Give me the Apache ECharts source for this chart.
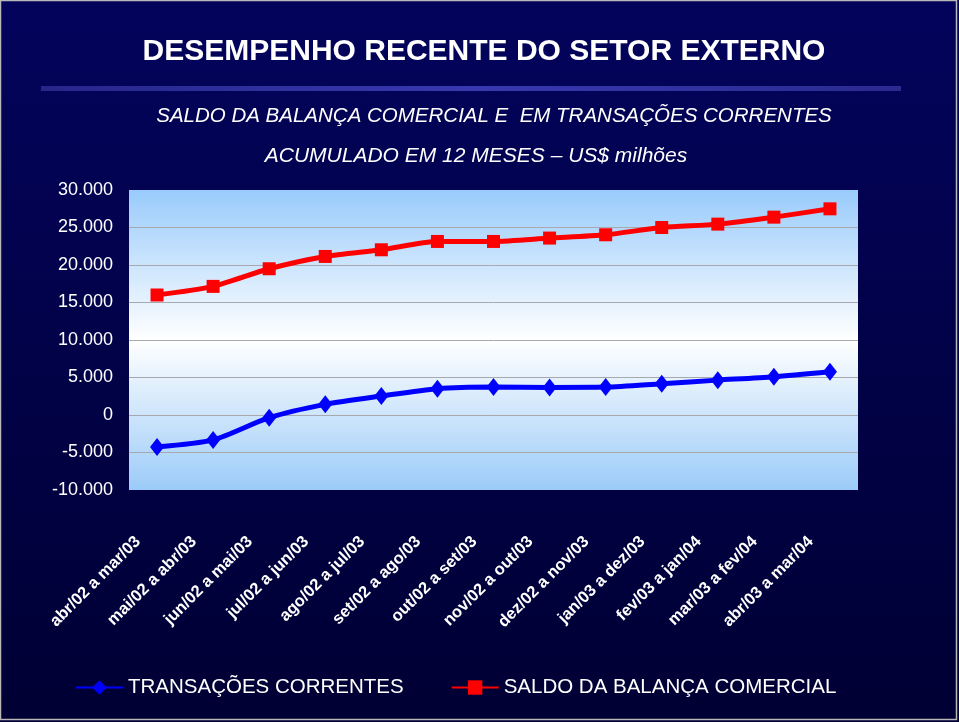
<!DOCTYPE html>
<html>
<head>
<meta charset="utf-8">
<script src="https://cdn.jsdelivr.net/npm/echarts@6/dist/echarts.min.js"></script>
<style>
html,body{margin:0;padding:0;background:#e0e0e0;}
#c{width:959px;height:722px;}
</style>
</head>
<body>
<div id="c"></div>
<script>
const categories = ['abr/02 a mar/03','mai/02 a abr/03','jun/02 a mai/03','jul/02 a jun/03','ago/02 a jul/03','set/02 a ago/03','out/02 a set/03','nov/02 a out/03','dez/02 a nov/03','jan/03 a dez/03','fev/03 a jan/04','mar/03 a fev/04','abr/03 a mar/04'];
const transacoesCorrentes = [-4260, -3320, -350, 1420, 2530, 3510, 3720, 3680, 3720, 4180, 4650, 5110, 5770];
const saldoBalanca = [16000, 17150, 19500, 21140, 22030, 23140, 23140, 23590, 24030, 25000, 25450, 26380, 27490];
const yMin = -10000, yMax = 30000, yStep = 5000;

function fmt(v){
  if (v === 0) return '0';
  const s = Math.abs(v).toString().replace(/\B(?=(\d{3})+(?!\d))/g, '.');
  return (v < 0 ? '-' : '') + s;
}

const chart = echarts.init(document.getElementById('c'), null, {renderer:'canvas'});
chart.setOption({
  animation:false,
  backgroundColor: new echarts.graphic.LinearGradient(0,0,0,1,[
    {offset:0,color:'#03035c'},{offset:1,color:'#000034'}
  ]),
  title:[
    {text:'DESEMPENHO RECENTE DO SETOR EXTERNO', left:479, top:32, textAlign:'center',
     textStyle:{color:'#ffffff', fontFamily:'Liberation Sans, Arial', fontWeight:'bold', fontSize:30,
       textShadowColor:'#000000', textShadowOffsetX:3, textShadowOffsetY:3, textShadowBlur:0}},
    {text:'SALDO DA BALANÇA COMERCIAL E  EM TRANSAÇÕES CORRENTES', left:489, top:101, textAlign:'center',
     textStyle:{color:'#ffffff', fontFamily:'Liberation Sans, Arial', fontStyle:'italic', fontWeight:'normal', fontSize:20.5,
       textShadowColor:'#000000', textShadowOffsetX:2, textShadowOffsetY:2}},
    {text:'ACUMULADO EM 12 MESES – US$ milhões', left:471, top:141, textAlign:'center',
     textStyle:{color:'#ffffff', fontFamily:'Liberation Sans, Arial', fontStyle:'italic', fontWeight:'normal', fontSize:21,
       textShadowColor:'#000000', textShadowOffsetX:2, textShadowOffsetY:2}}
  ],
  graphic:[
    {type:'rect', shape:{x:41,y:86,width:860,height:5}, silent:true,
     style:{fill:new echarts.graphic.LinearGradient(0,0,1,0,[
       {offset:0,color:'#26268a'},{offset:0.5,color:'#3838b0'},{offset:1,color:'#2a2a90'}])}},
    {type:'rect', shape:{x:0.5,y:0.5,width:956,height:719}, silent:true, z:100,
     style:{fill:'none', stroke:'#b8b8b8', lineWidth:1.5}}
  ],
  legend:{
    left:75, top:677, padding:0, itemWidth:47, itemHeight:18, itemGap:47,
    textStyle:{color:'#ffffff', fontFamily:'Liberation Sans, Arial', fontSize:20.5},
    data:['TRANSAÇÕES CORRENTES','SALDO DA BALANÇA COMERCIAL']
  },
  grid:{left:129, right:101, top:190, bottom:232, show:true, borderWidth:0,
    backgroundColor:new echarts.graphic.LinearGradient(0,0,0,1,[
      {offset:0,color:'#99cbfb'},{offset:0.5,color:'#ffffff'},{offset:1,color:'#9ccbf8'}])},
  xAxis:{
    type:'category', data:categories, boundaryGap:true,
    axisLine:{show:false}, axisTick:{show:false},
    axisLabel:{interval:0, rotate:45, color:'#ffffff', fontFamily:'Liberation Sans, Arial', fontWeight:'bold', fontSize:16.5,
      margin:30, padding:[0,27,0,0]}
  },
  yAxis:{
    type:'value', min:yMin, max:yMax, interval:yStep,
    axisLine:{show:false}, axisTick:{show:false},
    splitLine:{show:true, showMinLine:false, showMaxLine:false, lineStyle:{color:'#a8a8b0', width:1}},
    axisLabel:{color:'#ffffff', fontFamily:'Liberation Sans, Arial', fontSize:18, margin:16, formatter:fmt}
  },
  series:[
    {name:'TRANSAÇÕES CORRENTES', type:'line', data:transacoesCorrentes, smooth:0.25,
     symbol:'diamond', symbolSize:[14,18], lineStyle:{color:'#0000ff', width:5},
     itemStyle:{color:'#0000ff'}},
    {name:'SALDO DA BALANÇA COMERCIAL', type:'line', data:saldoBalanca, smooth:0.25,
     symbol:'rect', symbolSize:13, lineStyle:{color:'#ff0000', width:5},
     itemStyle:{color:'#ff0000'}}
  ]
});
</script>
</body>
</html>
